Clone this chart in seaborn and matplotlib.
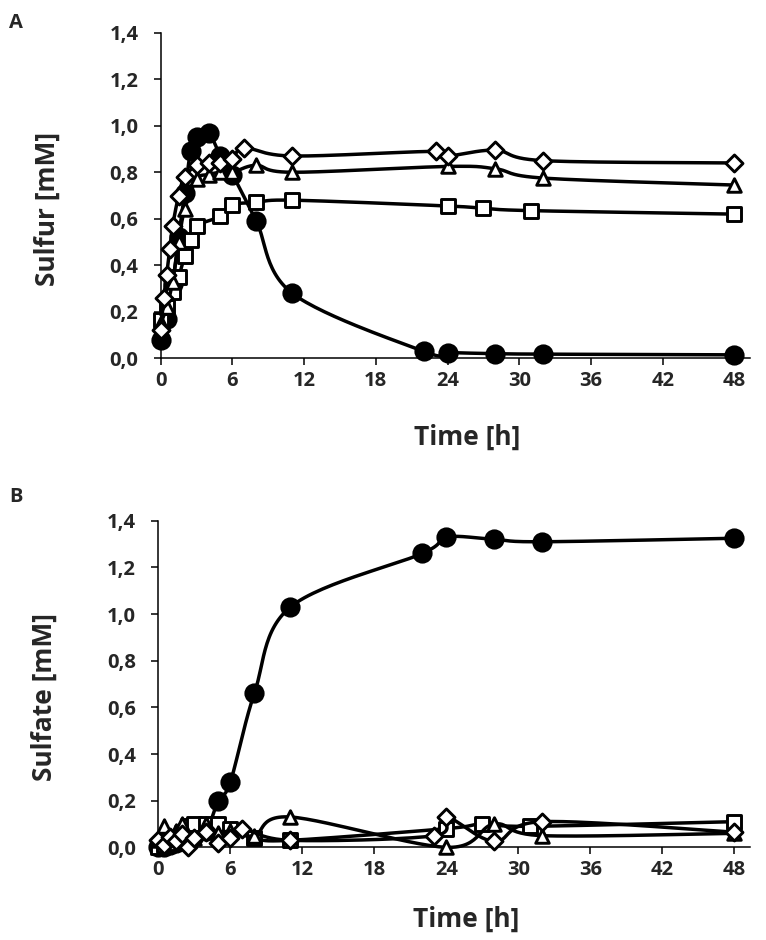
import numpy as np
import matplotlib
matplotlib.use("Agg")
import matplotlib.pyplot as plt
import seaborn as sns

# Panel A - sulfur
t_circ_a = [0, 0.5, 1, 1.5, 2, 2.5, 3, 4, 5, 6, 8, 11, 22, 24, 28, 32, 48]
y_circ_a = [0.08, 0.17, 0.32, 0.52, 0.71, 0.89, 0.95, 0.97, 0.87, 0.79, 0.59, 0.28, 0.03, 0.025, 0.02, 0.018, 0.015]
t_sq_a = [0, 0.5, 1, 1.5, 2, 2.5, 3, 5, 6, 8, 11, 24, 27, 31, 48]
y_sq_a = [0.165, 0.22, 0.285, 0.35, 0.44, 0.51, 0.57, 0.61, 0.66, 0.67, 0.68, 0.655, 0.645, 0.635, 0.62]
t_tri_a = [0, 0.5, 1, 1.5, 2, 3, 4, 5, 6, 8, 11, 24, 28, 32, 48]
y_tri_a = [0.15, 0.22, 0.33, 0.50, 0.64, 0.77, 0.79, 0.80, 0.80, 0.83, 0.80, 0.825, 0.815, 0.775, 0.745]
t_dia_a = [0, 0.25, 0.5, 0.75, 1, 1.5, 2, 3, 4, 5, 6, 7, 11, 23, 24, 28, 32, 48]
y_dia_a = [0.12, 0.26, 0.36, 0.47, 0.57, 0.70, 0.78, 0.83, 0.84, 0.84, 0.855, 0.905, 0.87, 0.89, 0.87, 0.895, 0.85, 0.84]

# Panel B - sulfate
t_circ_b = [0, 0.5, 1, 1.5, 2, 3, 4, 5, 6, 8, 11, 22, 24, 28, 32, 48]
y_circ_b = [0.0, 0.0, 0.01, 0.02, 0.03, 0.05, 0.07, 0.20, 0.28, 0.66, 1.03, 1.26, 1.33, 1.32, 1.31, 1.325]
t_sq_b = [0, 0.5, 1, 1.5, 2, 2.5, 3, 4, 5, 6, 8, 11, 24, 27, 31, 48]
y_sq_b = [0.0, 0.01, 0.02, 0.04, 0.06, 0.09, 0.10, 0.10, 0.10, 0.08, 0.04, 0.03, 0.08, 0.10, 0.09, 0.11]
t_tri_b = [0, 0.5, 1, 1.5, 2, 3, 4, 5, 6, 8, 11, 24, 28, 32, 48]
y_tri_b = [0.03, 0.09, 0.05, 0.07, 0.10, 0.04, 0.10, 0.06, 0.07, 0.05, 0.13, 0.0, 0.10, 0.05, 0.06]
t_dia_b = [0, 0.5, 1, 1.5, 2, 2.5, 3, 4, 5, 6, 7, 11, 23, 24, 28, 32, 48]
y_dia_b = [0.03, 0.01, 0.045, 0.025, 0.055, 0.0, 0.04, 0.065, 0.02, 0.04, 0.08, 0.03, 0.05, 0.13, 0.025, 0.11, 0.065]

x_ticks = [0, 6, 12, 18, 24, 30, 36, 42, 48]
y_ticks = [0.0, 0.2, 0.4, 0.6, 0.8, 1.0, 1.2, 1.4]

sns.set_style("ticks")
plt.rcParams["font.family"] = ["Open Sans", "DejaVu Sans"]
plt.rcParams["font.weight"] = "bold"


def smooth(t, y, n=30):
    # excel-like smoothed line (catmull-rom bezier)
    p = np.column_stack([t, y]).astype(float)
    pts = []
    for i in range(len(p) - 1):
        p0 = p[i - 1] if i > 0 else p[i]
        p1, p2 = p[i], p[i + 1]
        p3 = p[i + 2] if i + 2 < len(p) else p[i + 1]
        c1 = p1 + (p2 - p0) / 6
        c2 = p2 - (p3 - p1) / 6
        s = np.linspace(0, 1, n)[:, None]
        seg = (1 - s) ** 3 * p1 + 3 * (1 - s) ** 2 * s * c1 + 3 * (1 - s) * s ** 2 * c2 + s ** 3 * p2
        pts.append(seg)
    pts = np.vstack(pts)
    return pts[:, 0], pts[:, 1]


def draw_series(ax, t, y, marker, face, size, z):
    xs, ys = smooth(t, y)
    ax.plot(xs, ys, color="black", lw=2.5, zorder=z, clip_on=False)
    sns.scatterplot(x=t, y=y, marker=marker, s=size, color=face, edgecolor="black",
                    linewidth=2.1, ax=ax, zorder=z + 0.5, clip_on=False)


def style_axes(ax, ylabel, xlab_y):
    ax.set_xlim(0, 49.3)
    ax.set_ylim(0, 1.4)
    ax.set_xticks(x_ticks)
    ax.set_yticks(y_ticks)
    ax.set_yticklabels([f"{v:.1f}".replace(".", ",") for v in y_ticks])
    ax.tick_params(axis="both", labelsize=14.5, width=1.1, length=5, color="black")
    ax.tick_params(axis="x", pad=4)
    ax.tick_params(axis="y", pad=11)
    for lab in ax.get_xticklabels() + ax.get_yticklabels():
        lab.set_fontweight("bold")
    for sp in ["left", "bottom"]:
        ax.spines[sp].set_linewidth(1.1)
        ax.spines[sp].set_color("black")
    sns.despine(ax=ax)
    ax.set_xlabel("Time [h]", fontsize=19, fontweight="bold")
    ax.set_ylabel(ylabel, fontsize=19, fontweight="bold")
    ax.xaxis.set_label_coords(0.52, xlab_y)
    ax.yaxis.set_label_coords(-0.17, 0.46)


fig = plt.figure(figsize=(7.66, 9.4), dpi=100)

ax1 = fig.add_axes([0.2098, 0.6188, 0.7693, 0.3464])
draw_series(ax1, t_circ_a, y_circ_a, "o", "black", 155, 3)
draw_series(ax1, t_sq_a, y_sq_a, "s", "white", 100, 4)
draw_series(ax1, t_tri_a, y_tri_a, "^", "white", 95, 5)
draw_series(ax1, t_dia_a, y_dia_a, "D", "white", 75, 6)
style_axes(ax1, "Sulfur [mM]", -0.2)

ax2 = fig.add_axes([0.2067, 0.0986, 0.7725, 0.3474])
draw_series(ax2, t_circ_b, y_circ_b, "o", "black", 155, 3)
draw_series(ax2, t_sq_b, y_sq_b, "s", "white", 100, 4)
draw_series(ax2, t_tri_b, y_tri_b, "^", "white", 95, 5)
draw_series(ax2, t_dia_b, y_dia_b, "D", "white", 75, 6)
style_axes(ax2, "Sulfate [mM]", -0.18)

fig.text(0.012, 0.975, "A", fontsize=14.5, fontweight="bold", va="center")
fig.text(0.012, 0.471, "B", fontsize=14.5, fontweight="bold", va="center")

fig.savefig("out.png", dpi=100)
